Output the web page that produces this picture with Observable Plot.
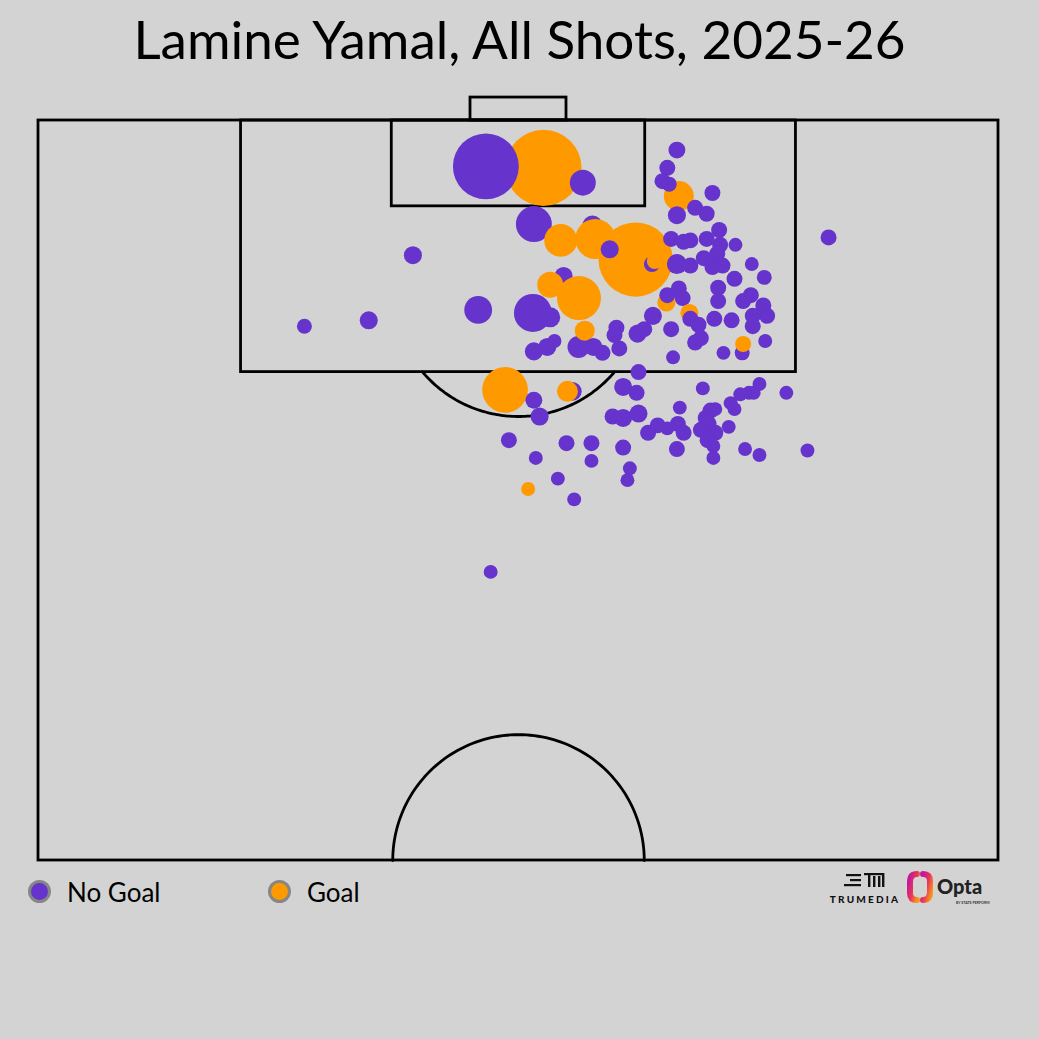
<!DOCTYPE html>
<html><head><meta charset="utf-8">
<script src="https://cdn.jsdelivr.net/npm/d3@7"></script>
<script src="https://cdn.jsdelivr.net/npm/@observablehq/plot@0.6"></script>
<style>
html,body{margin:0;padding:0;background:#d3d3d3;}
#wrap{position:relative;width:1039px;height:1039px;background:#d3d3d3;font-family:Lato,"Noto Sans",sans-serif;overflow:hidden;}
#title{position:absolute;left:0;top:0;width:1039px;height:90px;text-align:center;font-size:53px;line-height:78px;color:#000;}
#chart{position:absolute;left:0;top:90px;}
.lg-dot{position:absolute;width:17px;height:17px;border-radius:50%;border:3px solid #868686;}
.lg-txt{position:absolute;font-size:26px;line-height:26px;color:#000;}
#logos{position:absolute;left:820px;top:862px;}
</style>
</head><body>
<div id="wrap">
  <div id="title">Lamine Yamal, All Shots, 2025-26</div>
  <div id="chart"></div>
  <div class="lg-dot" style="left:28px;top:880px;background:#6633cc;"></div>
  <div class="lg-txt" style="left:67px;top:879px;">No Goal</div>
  <div class="lg-dot" style="left:268px;top:880px;background:#ff9900;"></div>
  <div class="lg-txt" style="left:307px;top:879px;">Goal</div>
  <svg id="logos" width="200" height="50" viewBox="0 0 200 50">
    <defs>
      <linearGradient id="og" x1="0" y1="0" x2="1" y2="1">
        <stop offset="0" stop-color="#c2189b"/>
        <stop offset="0.5" stop-color="#e8345a"/>
        <stop offset="1" stop-color="#f7941d"/>
      </linearGradient>
    </defs>
    <g fill="#111">
      <rect x="26" y="12" width="15" height="2.2"/>
      <rect x="30" y="17" width="11" height="2.2"/>
      <rect x="24" y="22" width="17" height="2.2"/>
      <rect x="44" y="11" width="20" height="2.2"/>
      <rect x="48" y="11" width="2.4" height="14"/>
      <rect x="53" y="14" width="2.4" height="11"/>
      <rect x="58" y="14" width="2.4" height="11"/>
      <rect x="62" y="11" width="2.4" height="14"/>
    </g>
    <text x="45" y="41" text-anchor="middle" font-family="Lato, sans-serif" font-weight="900" font-size="10" letter-spacing="2.2" fill="#111">TRUMEDIA</text>
    <path d="M97 12 Q90 12 90 20 L90 31 Q90 38 97 38" fill="none" stroke="url(#og)" stroke-width="6" stroke-linecap="round"/>
    <path d="M103 12 Q110 12 110 19 L110 30 Q110 38 103 38" fill="none" stroke="url(#og)" stroke-width="6" stroke-linecap="round"/>
    <text x="117" y="32" font-family="Lato, sans-serif" font-weight="900" font-size="20" fill="#222">Opta</text>
    <text x="136" y="42" font-family="Lato, sans-serif" font-weight="700" font-size="3.6" fill="#333">BY STATS PERFORM</text>
  </svg>
</div>
<script>
// Shot data, in Opta pitch units: length (50 = halfway, 100 = goal line), width (0-100 left to right)
const shotLength = [96.8,96.9,95.8,93.0,90.6,92.9,91.9,92.0,91.3,90.3,90.5,89.5,88.9,88.0,87.2,87.0,86.7,84.4,84.7,85.1,84.7,85.8,84.7,84.3,86.0,85.5,84.6,85.6,85.9,86.8,90.9,86.5,86.1,
  94.9,98.0,96.8,95.9,95.7,95.1,94.1,93.7,93.6,92.6,92.0,91.8,91.9,92.0,91.6,91.6,92.1,90.3,90.3,90.2,90.7,91.0,90.1,90.2,89.3,89.4,88.7,87.8,
  87.7,88.65,88.2,88.0,88.2,87.8,87.5,86.8,87.0,86.6,86.2,86.6,86.5,86.8,86.1,85.9,85.0,85.3,84.3,84.9,85.1,84.3,84.0,83.0,
  81.8,81.7,81.7,81.1,80.0,82.0,81.6,80.0,79.9,80.2,78.9,79.4,78.4,78.2,78.2,77.9,77.2,77.0,76.5,75.7,75.8,75.1,74.4,
  81.9,80.6,79.5,78.9,79.2,77.8,80.4,80.5,79.9,79.1,79.5,78.9,78.4,78.0,77.2,79.3,80.9,80.5,81.5,81.6,81.6,82.2,81.6,77.8,77.4,77.7,69.5];
const shotWidth = [52.6,46.6,56.7,51.6,62.2,57.7,54.4,58.0,59.5,63.9,64.2,54.7,53.3,56.3,45.8,51.5,53.3,51.6,53.0,53.75,56.25,56.9,57.8,58.75,60.2,60.0,60.5,62.4,63.1,64.0,39.0,34.4,27.7,
  66.7,66.5,65.5,65.0,65.7,70.2,68.4,69.6,66.5,70.9,65.9,67.2,67.9,69.6,71.0,72.6,82.3,74.3,66.5,67.9,69.3,70.7,70.2,71.25,72.5,75.6,70.8,70.8,
  65.4,66.7,65.5,67.1,74.2,73.4,75.5,75.9,67.8,67.9,68.75,70.4,72.2,74.4,74.4,65.9,68.4,69.0,73.3,73.4,75.7,71.35,66.1,62.5,
  48.6,55.6,55.1,51.6,52.2,60.9,62.3,59.8,60.9,62.5,63.5,64.5,49.0,55.0,57.6,60.9,51.8,57.6,61.6,61.35,54.1,51.0,55.8,
  69.2,66.8,66.6,67.2,65.5,66.5,70.0,70.5,69.5,69.0,69.8,70.5,69.7,70.3,70.3,71.9,72.1,72.5,73.1,74.0,74.5,75.1,77.9,73.6,75.1,80.1,47.1];
const shotXG = [0.75,0.56,0.087,0.167,0.71,0.052,0.14,0.207,0.042,0.033,0.033,0.042,0.087,0.25,0.10,0.186,0.052,0.042,0.042,0.025,0.0625,0.052,0.042,0.033,0.033,0.033,0.033,0.042,0.033,0.042,0.042,0.042,0.029,
  0.116,0.037,0.033,0.033,0.029,0.033,0.033,0.033,0.042,0.033,0.033,0.033,0.033,0.033,0.033,0.025,0.033,0.025,0.052,0.033,0.033,0.033,0.033,0.033,0.033,0.029,0.033,0.033,
  0.042,0.033,0.033,0.033,0.033,0.033,0.033,0.033,0.042,0.033,0.033,0.033,0.033,0.033,0.033,0.033,0.033,0.033,0.029,0.033,0.025,0.025,0.025,0.033,
  0.27,0.046,0.057,0.037,0.042,0.042,0.033,0.033,0.042,0.042,0.033,0.033,0.033,0.033,0.033,0.033,0.025,0.025,0.025,0.025,0.025,0.025,0.025,
  0.025,0.025,0.033,0.033,0.025,0.033,0.033,0.025,0.033,0.033,0.033,0.033,0.033,0.025,0.025,0.025,0.025,0.025,0.025,0.025,0.025,0.025,0.025,0.025,0.025,0.025,0.025];
const shotGoal = [1,0,0,0,1,0,1,1,0,0,1,0,1,1,0,0,0,0,0,0,0,1,0,0,0,0,0,0,0,0,0,0,0,
  1,0,0,0,0,0,0,0,0,0,0,0,0,0,0,0,0,0,0,0,0,0,0,0,0,0,0,0,
  1,0,0,0,0,0,0,0,1,0,0,0,0,0,0,0,0,0,0,1,0,0,0,0,
  1,0,1,0,0,0,0,0,0,0,0,0,0,0,0,0,0,0,0,0,0,1,0,
  0,0,0,0,0,0,0,0,0,0,0,0,0,0,0,0,0,0,0,0,0,0,0,0,0,0,0];
const outcomes = ["No Goal","Goal"];
const outcomeColors = ["#6633cc","#ff9900"];

const shots = shotLength.map((len,i)=>({len, wid: shotWidth[i], xg: shotXG[i], result: outcomes[shotGoal[i]]}));

// pitch geometry (Opta units)
const boxes = [
  {x1:0, x2:100, y1:50, y2:100},
  {x1:21.1, x2:78.9, y1:83, y2:100},
  {x1:36.8, x2:63.2, y1:94.2, y2:100},
  {x1:45, x2:55, y1:100, y2:101.55}
];
const rW = 13.1, rL = 8.5;
const phi0 = Math.asin(5.5/rL);
const penArc = d3.range(0, 101).map(k=>{const t = phi0 + (Math.PI-2*phi0)*k/100; return {x:50+rW*Math.cos(t), y:88.5-rL*Math.sin(t)};});
const centreArc = d3.range(0, 101).map(k=>{const t = Math.PI*k/100; return {x:50+rW*Math.cos(t), y:50+rL*Math.sin(t)};});

const chart = Plot.plot({
  width: 1039, height: 780,
  marginLeft: 38, marginRight: 41, marginTop: 30, marginBottom: 10,
  x: {domain:[0,100], axis:null},
  y: {domain:[50,100], axis:null},
  r: {type:"sqrt", domain:[0,1], range:[0,44]},
  color: {domain: outcomes, range: outcomeColors},
  style: {background:"transparent", overflow:"visible"},
  marks: [
    Plot.rect(boxes, {x1:"x1", x2:"x2", y1:"y1", y2:"y2", fill:"none", stroke:"#000", strokeWidth:2.8}),
    Plot.line(penArc, {x:"x", y:"y", stroke:"#000", strokeWidth:2.8}),
    Plot.line(centreArc, {x:"x", y:"y", stroke:"#000", strokeWidth:2.8}),
    Plot.dot(shots, {x:"wid", y:"len", r:"xg", fill:"result", sort:null, stroke:null})
  ]
});
document.getElementById("chart").appendChild(chart);
</script>
</body></html>
